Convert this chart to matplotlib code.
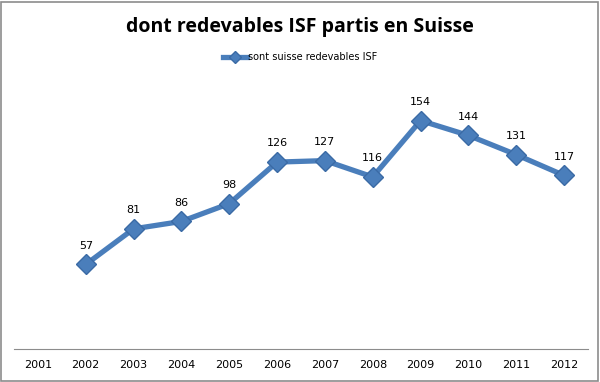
import matplotlib.pyplot as plt
from matplotlib.patches import Rectangle

years = ["2001", "2002", "2003", "2004", "2005", "2006",
         "2007", "2008", "2009", "2010", "2011", "2012"]
# 2001 has no value
counts = [None, 57, 81, 86, 98, 126, 127, 116, 154, 144, 131, 117]

fig = plt.figure(figsize=(6, 3.82), dpi=100)
fig.patches.append(Rectangle((0.002, 0.003), 0.995, 0.993, transform=fig.transFigure,
                             fill=False, edgecolor="#8c8c8c", linewidth=1.2))

ax = fig.add_axes([14 / 600, 1 - 349 / 382, 574 / 600, (349 - 82) / 382])

xs = [i for i, v in enumerate(counts) if v is not None]
ys = [v for v in counts if v is not None]
ax.plot(xs, ys, color="#4a7ebb", linewidth=3.8, marker="D", markersize=10.5,
        markerfacecolor="#4a7ebb", markeredgecolor="#3a6aa5", markeredgewidth=1,
        label="sont suisse redevables ISF")

for x, y in zip(xs, ys):
    ax.annotate(str(y), (x, y), xytext=(0, 10), textcoords="offset points",
                ha="center", va="bottom", fontsize=8, family="DejaVu Sans")

ax.set_xlim(-0.5, 11.5)
ax.set_ylim(0, 180)
ax.set_xticks(range(len(years)))
ax.set_xticklabels(years, fontsize=8)
ax.tick_params(axis="x", length=0, pad=8)
ax.set_yticks([])
for side in ["left", "right", "top"]:
    ax.spines[side].set_visible(False)
ax.spines["bottom"].set_color("#8c8c8c")

fig.text(0.5, 1 - 27 / 382, "dont redevables ISF partis en Suisse", ha="center", va="center",
         fontsize=14, fontweight="bold", family="Open Sans")
ax.legend(loc="center", bbox_to_anchor=(0.5, 1 - 57 / 382), bbox_transform=fig.transFigure,
          frameon=False, fontsize=7, handlelength=2.4, handletextpad=0.1, markerscale=0.6)

fig.savefig("out.png", dpi=100)
